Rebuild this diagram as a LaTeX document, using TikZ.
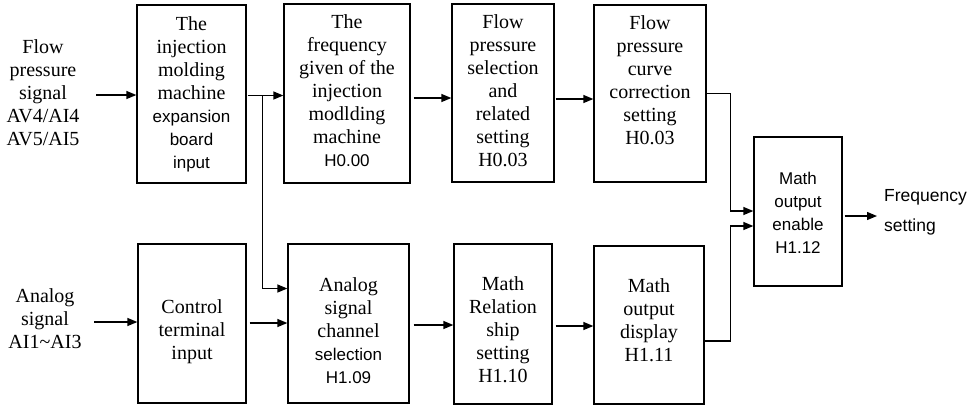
\documentclass[tikz,border=0pt]{standalone}
\usepackage{fontspec}
\setmainfont{Liberation Serif}
\newfontfamily\arialf{Liberation Sans}
\usetikzlibrary{arrows.meta}
\newcommand\SR{\fontsize{20}{23}\selectfont}
\newcommand\SA{\arialf\fontsize{17}{23}\selectfont}
\newcommand\bx[3]{\rule{0pt}{#1pt}#3\rule[-#2pt]{0pt}{0pt}}
\begin{document}
\begin{tikzpicture}[x=1pt,y=-1pt,
 box/.style={draw, line width=1.3pt, align=center, inner sep=0pt, font=\SR},
 lbl/.style={align=center, inner sep=0pt, font=\SR},
 arr/.style={line width=1.3pt, -{Triangle[length=10pt,width=8pt]}}]
\useasboundingbox (0,0) rectangle (972,405);
% top row
\node[box, minimum width=109pt, minimum height=178pt] (b1) at (191.5,94)
  {\bx{17}{6}{The\\ injection\\ molding\\ machine\\ \SA expansion\\ \SA board\\ \SA input}};
\node[box, minimum width=126pt, minimum height=179pt] (b2) at (347,93.5)
  {\bx{17}{10}{The\\ frequency\\ given of the\\ injection\\ modlding\\ machine\\ \SA H0.00}};
\node[box, minimum width=102pt, minimum height=178pt] (b3) at (503,93)
  {\bx{17}{9}{Flow\\ pressure\\ selection\\ and\\ related\\ setting\\ H0.03}};
\node[box, minimum width=112pt, minimum height=177pt] (b4) at (650,93.5)
  {\bx{17}{31}{Flow\\ pressure\\ curve\\ correction\\ setting\\ H0.03}};
\node[box, minimum width=88pt, minimum height=149pt] (b5) at (798,211.5)
  {\bx{21}{6}{\SA Math\\ \SA output\\ \SA enable\\ \SA H1.12}};
% bottom row
\node[box, minimum width=108pt, minimum height=159pt] (b6) at (192,323.5)
  {\bx{32}{6}{Control\\ terminal\\ input}};
\node[box, minimum width=121pt, minimum height=159pt] (b7) at (348.5,323.5)
  {\bx{34}{6}{Analog\\ signal\\ channel\\ \SA selection\\ \SA H1.09}};
\node[box, minimum width=98pt, minimum height=160pt] (b8) at (503,324)
  {\bx{31}{6}{Math\\ Relation\\ ship\\ setting\\ H1.10}};
\node[box, minimum width=110pt, minimum height=158pt] (b9) at (649,325)
  {\bx{17}{13}{Math\\ output\\ display\\ H1.11}};
% free texts
\node[lbl] (in1) at (43,93.5) {\bx{17}{6}{Flow\\ pressure\\ signal\\ AV4/AI4\\ AV5/AI5}};
\node[lbl] (in2) at (45,320) {\bx{17}{6}{Analog\\ signal\\ AI1\textasciitilde AI3}};
\node[anchor=west, align=left, inner sep=0pt, font=\arialf\fontsize{17.5}{30}\selectfont] (fq) at (884,212) {Frequency\\ setting};
% connectors
\draw[arr] ([xshift=-40pt,yshift=-1pt]b1.west) -- ([yshift=-1pt]b1.west);
\draw[arr] ([xshift=1pt,yshift=-1.5pt]b1.east) -- ([yshift=-1.5pt]b1.east -| b2.west);
\coordinate (j) at ([xshift=16pt,yshift=-1.5pt]b1.east);
\draw[arr] (j) |- ([yshift=35pt]b7.west);
\draw[arr] ([xshift=3pt,yshift=-4.5pt]b2.east) -- ([yshift=-4.5pt]b2.east -| b3.west);
\draw[arr] ([xshift=1pt,yshift=-6pt]b3.east) -- ([yshift=-6pt]b3.east -| b4.west);
\draw[arr] (b4.east) -- ++(24,0) |- ([yshift=0.5pt]b5.west);
\draw[arr] ([yshift=-16pt]b9.east) -- ++(26,0) |- ([yshift=-14.5pt]b5.west);
\draw[arr, shorten >=7pt] ([xshift=2pt,yshift=-4.5pt]b5.east) -- ([yshift=-4.5pt]b5.east -| fq.west);
\draw[arr] ([xshift=-43pt,yshift=1.5pt]b6.west) -- ([yshift=1.5pt]b6.west);
\draw[arr] ([xshift=3pt,yshift=0.5pt]b6.east) -- ([yshift=0.5pt]b6.east -| b7.west);
\draw[arr] ([xshift=4pt,yshift=-1.5pt]b7.east) -- ([yshift=-1.5pt]b7.east -| b8.west);
\draw[arr] ([xshift=3pt,yshift=-2pt]b8.east) -- ([yshift=-2pt]b8.east -| b9.west);
\end{tikzpicture}
\end{document}
